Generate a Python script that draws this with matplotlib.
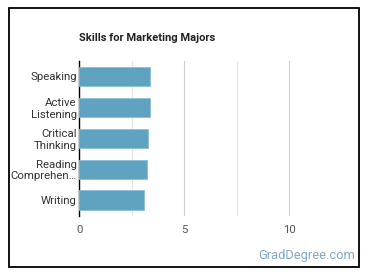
import matplotlib.pyplot as plt
from matplotlib.patches import Rectangle

skills = ["Speaking", "Active\nListening", "Critical\nThinking", "Reading\nComprehen…", "Writing"]
scores = [3.35, 3.35, 3.29, 3.24, 3.10]
ticks = [0, 5, 10]

plt.rcParams['font.family'] = ['Roboto', 'DejaVu Sans']

fig = plt.figure(figsize=(3.7, 2.78), dpi=100)
W, H = 370, 278

# frame around the chart
fig.patches.append(Rectangle((8.5 / W, 11 / H), 350 / W, 259 / H, transform=fig.transFigure,
                             fill=False, edgecolor='black', linewidth=1.3))

ax = fig.add_axes([79.3 / W, (H - 215.7) / H, 262.5 / W, (215.7 - 61) / H])
y = list(range(len(skills)))
ax.barh(y, scores, height=0.63, color='#5fa3c0', edgecolor='#8cc0d6', linewidth=0.6, zorder=3)
ax.set_ylim(len(skills) - 0.5, -0.5)
ax.set_xlim(0, 12.5)
ax.set_yticks(y)
ax.set_yticklabels(skills, fontsize=8.2, color='#333333', linespacing=1.15)
ax.set_xticks(ticks)
ax.set_xticklabels([str(t) for t in ticks], fontsize=8.2, color='#555555')
ax.set_xticks([2.5, 7.5], minor=True)
ax.grid(axis='x', which='major', color='#cccccc', linewidth=0.8, zorder=0)
ax.grid(axis='x', which='minor', color='#e6e6e6', linewidth=0.8, zorder=0)
ax.tick_params(axis='both', which='both', length=0)
ax.tick_params(axis='x', pad=6.5)
ax.tick_params(axis='y', pad=2)
for s in ['top', 'right', 'bottom']:
    ax.spines[s].set_visible(False)
ax.spines['left'].set_color('black')
ax.spines['left'].set_linewidth(1)

fig.text(79 / W, 1 - 37.7 / H, "Skills for Marketing Majors", fontsize=8, fontweight='bold',
         color='#222222', va='center', ha='left')
fig.text(355 / W, 1 - 255.5 / H, "GradDegree.com", fontsize=9.3, color='#7fa9c6',
         va='center', ha='right')

fig.savefig("out.png", dpi=100)
